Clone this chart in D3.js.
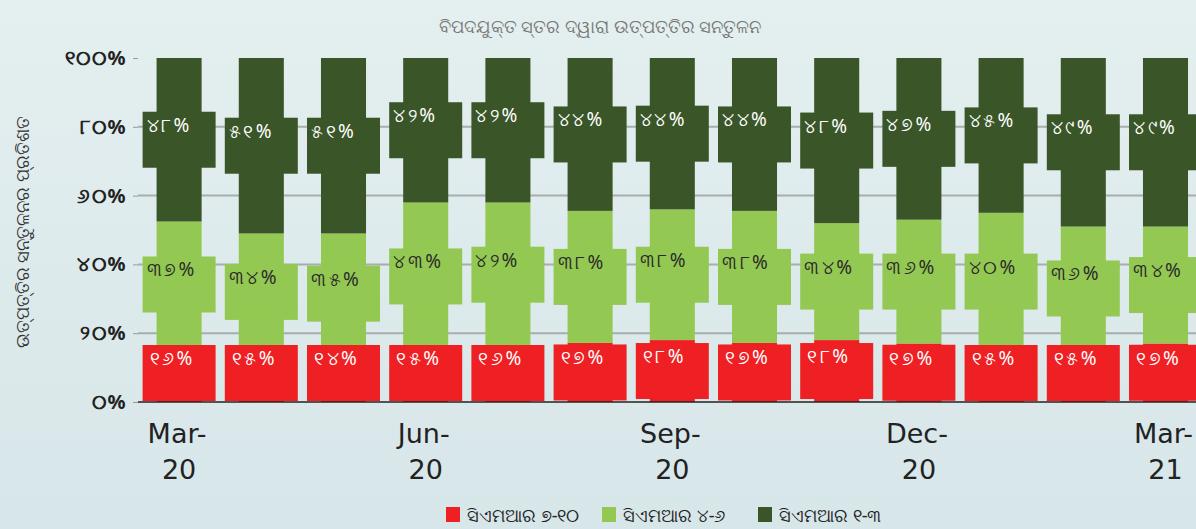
<!DOCTYPE html>
<html>
<head>
<meta charset="utf-8">
<script src="https://cdn.jsdelivr.net/npm/d3@7"></script>
<style>
  html, body { margin: 0; padding: 0; overflow: hidden; }
  body { width: 1196px; height: 529px; }
  svg { display: block; font-family: "Noto Sans", "DejaVu Sans", sans-serif; }
</style>
</head>
<body>
<svg id="chart"></svg>
<script>
const months = ["Mar-20", "Apr-20", "May-20", "Jun-20", "Jul-20", "Aug-20", "Sep-20",
  "Oct-20", "Nov-20", "Dec-20", "Jan-21", "Feb-21", "Mar-21"];
const tickMonths = ["Mar-20", "Jun-20", "Sep-20", "Dec-20", "Mar-21"];
const cmr7to10 = [16, 15, 14, 15, 16, 17, 18, 17, 18, 17, 15, 15, 17];
const cmr4to6 = [37, 34, 35, 43, 42, 38, 38, 38, 34, 36, 40, 36, 34];
const cmr1to3 = [48, 51, 51, 42, 42, 44, 44, 44, 48, 47, 45, 49, 49];
const seriesKeys = ["cmr7to10", "cmr4to6", "cmr1to3"];
const seriesNames = ["ସିଏମଆର ୭-୧୦", "ସିଏମଆର ୪-୬", "ସିଏମଆର ୧-୩"];
const colors = ["#ee2024", "#93c852", "#3a5628"];
const labelColors = ["#ffffff", "#2b2b2b", "#ffffff"];
const yTicks = [0, 0.2, 0.4, 0.6, 0.8, 1];
const title = "ବିପଦଯୁକ୍ତ ସ୍ତର ଦ୍ୱାରା ଉତ୍ପତ୍ତିର ସନ୍ତୁଳନ";
const yTitle = "ଉତ୍ପତ୍ତିର ସନ୍ତୁଳନର ପ୍ରତିଶତ";

const width = 1196, height = 529;
const odiaDigits = "୦୧୨୩୪୫୬୭୮୯";
const toOdia = n => String(n).replace(/[0-9]/g, c => odiaDigits[+c]);

function main() {
  const svg = d3.select("#chart").attr("width", width).attr("height", height);
  drawBackground(svg);

  const rows = months.map((m, i) => ({
    month: m, cmr7to10: cmr7to10[i], cmr4to6: cmr4to6[i], cmr1to3: cmr1to3[i]
  }));
  const stacked = d3.stack().keys(seriesKeys).offset(d3.stackOffsetExpand)(rows);

  // band step ~82px, chart runs off the right edge like the original
  const x = d3.scaleBand().domain(months)
    .range([138, 138 + 82.2 * months.length])
    .paddingInner(0.452).paddingOuter(0.226);
  const y = d3.scaleLinear().domain([0, 1]).range([402, 58]);

  drawGrid(svg, y);
  drawBars(svg, stacked, rows, x, y);
  drawAxes(svg, x, y);
  drawLegend(svg);

  svg.append("text")
    .attr("x", 600).attr("y", 33)
    .attr("text-anchor", "middle")
    .attr("font-size", 18)
    .attr("fill", "#777")
    .text(title);
}

function drawBackground(svg) {
  const grad = svg.append("defs").append("linearGradient")
    .attr("id", "bg").attr("x1", 0).attr("y1", 0).attr("x2", 0).attr("y2", 1);
  grad.append("stop").attr("offset", "0%").attr("stop-color", "#e4efef");
  grad.append("stop").attr("offset", "100%").attr("stop-color", "#d7e6e9");
  svg.append("rect").attr("width", width).attr("height", height).attr("fill", "url(#bg)");
}

function drawGrid(svg, y) {
  svg.append("g")
    .selectAll("line")
    .data(yTicks.filter(d => d > 0 && d < 1))
    .join("line")
    .attr("x1", 138).attr("x2", width)
    .attr("y1", d => y(d)).attr("y2", d => y(d))
    .attr("stroke", "#a8adad")
    .attr("stroke-width", 2);
}

function drawBars(svg, stacked, rows, x, y) {
  const boxW = 73, boxH = 56;
  const g = svg.append("g");

  g.selectAll("g.series")
    .data(stacked)
    .join("g")
    .attr("class", "series")
    .attr("fill", (d, i) => colors[i])
    .selectAll("rect")
    .data(d => d)
    .join("rect")
    .attr("x", d => x(d.data.month))
    .attr("width", x.bandwidth())
    .attr("y", d => y(d[1]))
    .attr("height", d => y(d[0]) - y(d[1]));

  // label boxes, wider than the bars, centred on each segment
  const labels = g.selectAll("g.labels")
    .data(stacked)
    .join("g")
    .attr("class", "labels")
    .selectAll("g")
    .data((s, si) => s.map(d => ({ d, si, key: s.key })))
    .join("g")
    .attr("transform", ({ d }) => {
      const cx = x(d.data.month) + x.bandwidth() / 2;
      let cy = (y(d[0]) + y(d[1])) / 2;
      cy = Math.min(cy, y(0) - boxH / 2 - 1);
      return `translate(${cx - boxW / 2},${cy - boxH / 2})`;
    });

  labels.append("rect")
    .attr("width", boxW).attr("height", boxH)
    .attr("fill", ({ si }) => colors[si]);

  labels.append("text")
    .attr("x", ({ si }) => si === 0 ? 7 : 4).attr("y", 20)
    .attr("font-size", 19)
    .attr("letter-spacing", 2.5)
    .attr("fill", ({ si }) => labelColors[si])
    .text(({ d, key }) => toOdia(d.data[key]) + "%");
}

function drawAxes(svg, x, y) {
  svg.append("line")
    .attr("x1", 138).attr("x2", width)
    .attr("y1", y(0)).attr("y2", y(0))
    .attr("stroke", "#222").attr("stroke-width", 1.5);

  const yAxis = svg.append("g")
    .attr("transform", "translate(138,0)")
    .call(d3.axisLeft(y).tickValues(yTicks).tickSize(5).tickPadding(6)
      .tickFormat(d => toOdia(Math.round(d * 100)) + "%"));
  yAxis.select(".domain").remove();
  yAxis.selectAll(".tick line").attr("stroke", "#999");
  yAxis.selectAll(".tick text")
    .attr("font-size", 20).attr("font-weight", "bold")
    .attr("letter-spacing", 1.5)
    .attr("fill", "#222").attr("font-family", "\"Noto Sans\", sans-serif");

  const xAxis = svg.append("g")
    .attr("transform", `translate(0,${y(0)})`)
    .call(d3.axisBottom(x).tickValues(tickMonths).tickSize(0).tickFormat(""));
  xAxis.select(".domain").remove();
  xAxis.selectAll(".tick").each(function (m) {
    const [mon, yr] = m.split("-");
    const t = d3.select(this).append("text")
      .attr("text-anchor", "middle")
      .attr("fill", "#222")
      .attr("font-size", 27)
      .attr("font-family", "Verdana, \"DejaVu Sans\", sans-serif");
    t.append("tspan").attr("x", -2).attr("y", 41).text(mon + "-");
    t.append("tspan").attr("x", 0).attr("y", 77).text(yr);
  });

  svg.append("text")
    .attr("transform", "translate(29,232) rotate(-90)")
    .attr("text-anchor", "middle")
    .attr("font-size", 18)
    .attr("fill", "#333")
    .text(yTitle);
}

function drawLegend(svg) {
  const legendX = [446, 602, 758];
  const item = svg.append("g")
    .selectAll("g")
    .data(seriesNames)
    .join("g")
    .attr("transform", (d, i) => `translate(${legendX[i]},507)`);
  item.append("rect")
    .attr("width", 14).attr("height", 15)
    .attr("fill", (d, i) => colors[i]);
  item.append("text")
    .attr("x", 21).attr("y", 15)
    .attr("font-size", 18)
    .attr("fill", "#222")
    .text(d => d);
}

main();
</script>
</body>
</html>
